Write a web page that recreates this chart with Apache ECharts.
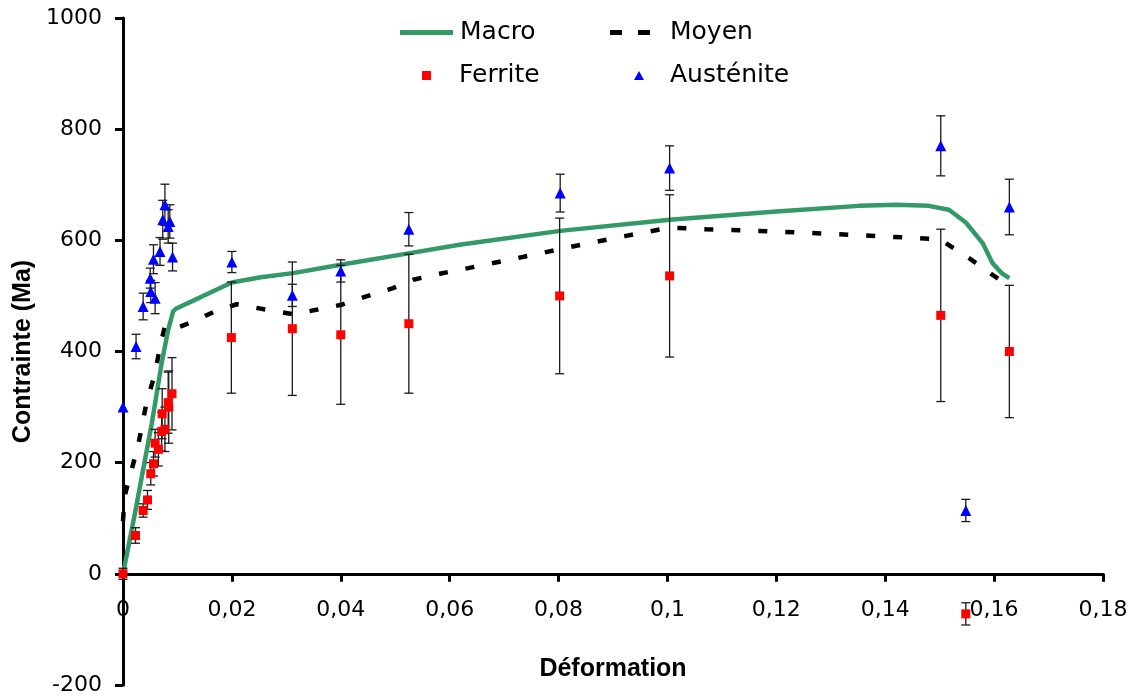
<!DOCTYPE html>
<html>
<head>
<meta charset="utf-8">
<script src="https://cdn.jsdelivr.net/npm/echarts@6/dist/echarts.min.js"></script>
<style>
html,body{margin:0;padding:0;background:#fff;}
#chart{width:1133px;height:700px;}
</style>
</head>
<body>
<div id="chart"></div>
<script>
// ---- Data ----
const xMin = 0, xMax = 0.18, xTickInterval = 0.02;
const yMin = -200, yMax = 1000, yTickInterval = 200;

const macroX = [0, 0.0022, 0.0053, 0.0071, 0.0083, 0.0092, 0.0097, 0.0141, 0.0200, 0.0250, 0.0312, 0.0400, 0.0527, 0.0618, 0.0803, 0.1004, 0.1200, 0.1352, 0.1420, 0.1480, 0.1517, 0.1548, 0.1579, 0.1597, 0.1615, 0.1628];
const macroY = [0, 109, 271, 379, 439, 472, 477, 497, 524, 533, 541, 556, 577, 592, 617, 637, 652, 662, 664, 662, 655, 632, 595, 559, 540, 532];

const moyenX = [0, 0.0003, 0.0028, 0.0043, 0.0059, 0.0068, 0.0077, 0.0089, 0.0129, 0.0175, 0.0209, 0.0264, 0.0312, 0.0355, 0.0401, 0.0447, 0.0496, 0.0533, 0.0582, 0.0634, 0.0734, 0.0826, 0.0924, 0.1004, 0.1071, 0.1169, 0.1316, 0.1500, 0.1554, 0.1597, 0.1628];
const moyenY = [95, 140, 232, 307, 361, 409, 445, 439, 454, 475, 485, 475, 467, 475, 484, 499, 514, 529, 540, 550, 570, 589, 608, 623, 620, 617, 611, 602, 568, 538, 518];

const ferriteX = [0, 0.0023, 0.0037, 0.0045, 0.0051, 0.0056, 0.0059, 0.0065, 0.0071, 0.0077, 0.0072, 0.0083, 0.0084, 0.0090, 0.0199, 0.0311, 0.0400, 0.0525, 0.0802, 0.1004, 0.1502, 0.1548, 0.1628];
const ferriteY = [0, 69, 114, 133, 180, 198, 235, 224, 256, 260, 288, 308, 300, 324, 425, 441, 430, 450, 500, 536, 465, -72, 400];
const ferriteErr = [10, 14, 12, 17, 20, 22, 25, 30, 35, 40, 45, 55, 65, 65, 100, 120, 125, 125, 140, 146, 155, 20, 119];

const austeniteX = [0, 0.0024, 0.0037, 0.0050, 0.0051, 0.0059, 0.0056, 0.0068, 0.0091, 0.0073, 0.0083, 0.0077, 0.0086, 0.0200, 0.0311, 0.0400, 0.0525, 0.0803, 0.1004, 0.1502, 0.1548, 0.1628];
const austeniteY = [300, 409, 481, 532, 508, 496, 566, 580, 570, 637, 625, 664, 634, 561, 501, 545, 620, 685, 730, 770, 114, 660];
const austeniteErr = [0, 22, 24, 18, 20, 28, 26, 25, 25, 35, 30, 37, 30, 19, 20, 20, 30, 34, 40, 54, 20, 50];

// ---- Build ----
const zip2 = (a, b) => a.map((v, i) => [v, b[i]]);
const zip3 = (a, b, c) => a.map((v, i) => [v, b[i], c[i]]);

const W = 1133, H = 700;
const GRID = { left: 123, right: 30, top: 18, bottom: 15 };
const plotH = H - GRID.top - GRID.bottom;
// move the x axis (line, ticks, labels, name) up to y = 0
const xAxisOffset = -plotH * (0 - yMin) / (yMax - yMin);

const FONT = '"DejaVu Sans", Verdana, sans-serif';
const FONT_B = '"Liberation Sans", Arial, Helvetica, sans-serif';

function errRender(params, api) {
  const x = api.value(0), y = api.value(1), e = api.value(2);
  if (!e) return null;
  const top = api.coord([x, y + e]);
  const bot = api.coord([x, y - e]);
  const hw = 4.5;
  const st = { stroke: '#1a1a1a', lineWidth: 1.3 };
  return {
    type: 'group',
    children: [
      { type: 'line', shape: { x1: top[0], y1: top[1], x2: bot[0], y2: bot[1] }, style: st },
      { type: 'line', shape: { x1: top[0] - hw, y1: top[1], x2: top[0] + hw, y2: top[1] }, style: st },
      { type: 'line', shape: { x1: bot[0] - hw, y1: bot[1], x2: bot[0] + hw, y2: bot[1] }, style: st }
    ]
  };
}

const fmtX = v => {
  if (Math.abs(v) < 1e-9) return '0';
  return String(parseFloat(v.toFixed(2))).replace('.', ',');
};
const fmtY = v => String(Math.round(v));

const legText = (padLeft) => ({ fontFamily: FONT, fontSize: 25, color: '#000', padding: [0, 0, 0, padLeft] });
const legendBase = { orient: 'horizontal', selectedMode: false, padding: 0 };

const chart = echarts.init(document.getElementById('chart'), null, { renderer: 'canvas' });
chart.setOption({
  animation: false,
  backgroundColor: '#fff',
  grid: Object.assign({ containLabel: false, outerBoundsMode: 'none' }, GRID),
  legend: [
    Object.assign({}, legendBase, {
      left: 400, top: 20, itemWidth: 53, itemHeight: 14,
      data: [{ name: 'Macro', icon: 'path://M0,0L53,0L53,5L0,5Z' }],
      textStyle: legText(2)
    }),
    Object.assign({}, legendBase, {
      left: 610, top: 20, itemWidth: 40, itemHeight: 14,
      data: [{ name: 'Moyen', icon: 'path://M0,0L12,0L12,5L0,5Z M28,0L40,0L40,5L28,5Z' }],
      textStyle: legText(15)
    }),
    Object.assign({}, legendBase, {
      left: 422, top: 63, itemWidth: 9, itemHeight: 9,
      data: [{ name: 'Ferrite', icon: 'rect' }],
      textStyle: legText(23)
    }),
    Object.assign({}, legendBase, {
      left: 634, top: 63, itemWidth: 10, itemHeight: 9,
      data: [{ name: 'Austénite', icon: 'triangle' }],
      textStyle: legText(21)
    })
  ],
  xAxis: {
    type: 'value',
    position: 'bottom',
    offset: xAxisOffset,
    min: xMin, max: xMax, interval: xTickInterval,
    name: 'Déformation',
    nameLocation: 'middle',
    nameGap: 83,
    nameTextStyle: { fontFamily: FONT_B, fontSize: 25, fontWeight: 'bold', color: '#000' },
    axisLine: { show: true, onZero: false, lineStyle: { color: '#000', width: 3 } },
    axisTick: { show: true, inside: false, length: 8, lineStyle: { color: '#000', width: 3 } },
    axisLabel: { show: true, margin: 25, fontFamily: FONT, fontSize: 22, color: '#000', formatter: fmtX, showMinLabel: true, showMaxLabel: true },
    splitLine: { show: false }
  },
  yAxis: {
    type: 'value',
    min: yMin, max: yMax, interval: yTickInterval,
    name: 'Contrainte (Ma)',
    nameLocation: 'middle',
    nameGap: 72,
    nameTextStyle: { fontFamily: FONT_B, fontSize: 25, fontWeight: 'bold', color: '#000' },
    axisLine: { show: true, onZero: false, lineStyle: { color: '#000', width: 3 } },
    axisTick: { show: true, inside: false, length: 8, lineStyle: { color: '#000', width: 3 } },
    axisLabel: { show: true, margin: 21, fontFamily: FONT, fontSize: 22, color: '#000', formatter: fmtY, showMinLabel: true, showMaxLabel: true },
    splitLine: { show: false }
  },
  series: [
    {
      name: 'Moyen',
      type: 'line',
      data: zip2(moyenX, moyenY),
      symbol: 'none',
      showSymbol: false,
      color: '#000',
      lineStyle: { color: '#000', width: 4.5, type: [9, 18], cap: 'butt' },
      z: 2
    },
    {
      name: 'Macro',
      type: 'line',
      data: zip2(macroX, macroY),
      symbol: 'none',
      showSymbol: false,
      color: '#339966',
      lineStyle: { color: '#339966', width: 4.5 },
      z: 3
    },
    {
      name: 'FerriteErr',
      type: 'custom',
      renderItem: errRender,
      data: zip3(ferriteX, ferriteY, ferriteErr),
      encode: { x: 0, y: 1 },
      z: 4
    },
    {
      name: 'AusteniteErr',
      type: 'custom',
      renderItem: errRender,
      data: zip3(austeniteX, austeniteY, austeniteErr),
      encode: { x: 0, y: 1 },
      z: 4
    },
    {
      name: 'Ferrite',
      type: 'scatter',
      data: zip2(ferriteX, ferriteY),
      symbol: 'rect',
      symbolSize: 9,
      color: '#ff0000',
      itemStyle: { color: '#ff0000', opacity: 1 },
      z: 5
    },
    {
      name: 'Austénite',
      type: 'scatter',
      data: zip2(austeniteX, austeniteY),
      symbol: 'triangle',
      symbolSize: 11,
      color: '#0000ff',
      itemStyle: { color: '#0000ff', opacity: 1 },
      z: 5
    }
  ]
});
</script>
</body>
</html>
